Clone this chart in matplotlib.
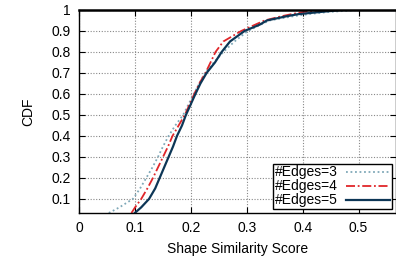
import matplotlib
matplotlib.use("Agg")
import matplotlib.pyplot as plt

plt.rcParams['font.family'] = ['Liberation Sans', 'DejaVu Sans']

# CDF levels and the score read at each level, per series
cdf = [0.033, 0.06, 0.1, 0.15, 0.2, 0.25, 0.3, 0.35, 0.4, 0.45, 0.5, 0.6, 0.65, 0.7,
       0.75, 0.8, 0.85, 0.9, 0.93, 0.95, 0.97, 0.98, 0.99, 1.0, 1.0]
edges3 = [0.053, 0.072, 0.096, 0.109, 0.120, 0.131, 0.141, 0.150, 0.160, 0.172, 0.186, 0.205, 0.215, 0.225,
          0.241, 0.258, 0.278, 0.302, 0.325, 0.341, 0.383, 0.410, 0.445, 0.500, 0.57]
edges4 = [0.0935, 0.100, 0.111, 0.122, 0.132, 0.141, 0.150, 0.159, 0.167, 0.178, 0.189, 0.206, 0.215, 0.226,
          0.235, 0.244, 0.258, 0.290, 0.315, 0.332, 0.362, 0.380, 0.400, 0.440, 0.57]
edges5 = [0.0995, 0.111, 0.125, 0.136, 0.144, 0.152, 0.160, 0.168, 0.175, 0.184, 0.191, 0.208, 0.217, 0.228,
          0.243, 0.255, 0.270, 0.296, 0.323, 0.336, 0.371, 0.392, 0.430, 0.470, 0.57]

xticks = [0, 0.1, 0.2, 0.3, 0.4, 0.5]
yticks = [0.1, 0.2, 0.3, 0.4, 0.5, 0.6, 0.7, 0.8, 0.9, 1]

fig = plt.figure(figsize=(3.96, 2.62), dpi=100)
ax = fig.add_axes([0.2, 0.187, 0.8, 0.775])

ax.plot(edges3, cdf, color='#7fa8b8', linestyle=(0, (1, 1.5)), linewidth=1.3, label='#Edges=3')
ax.plot(edges4, cdf, color='#e0262a', linestyle=(0, (5, 1.5, 1, 1.5)), linewidth=1.3, label='#Edges=4')
ax.plot(edges5, cdf, color='#0d3656', linestyle='-', linewidth=1.6, label='#Edges=5')

ax.set_xlim(0, 0.567)
ax.set_ylim(0.033, 1.0)
ax.set_xticks(xticks)
ax.set_xticklabels(['0', '0.1', '0.2', '0.3', '0.4', '0.5'])
ax.set_yticks(yticks)
ax.set_yticklabels(['0.1', '0.2', '0.3', '0.4', '0.5', '0.6', '0.7', '0.8', '0.9', '1'])
ax.tick_params(direction='in', length=4, labelsize=10, pad=6, top=True, right=True)
ax.grid(True, color='#888888', linestyle=(0, (1, 1.5)), linewidth=0.8)
for s in ax.spines.values():
    s.set_linewidth(1.0)
ax.spines['top'].set_linewidth(1.8)

ax.set_xlabel('Shape Similarity Score', fontsize=10, labelpad=5)
ax.set_ylabel('CDF', fontsize=10, labelpad=12)

leg = ax.legend(loc='lower right', fontsize=10, markerfirst=False, frameon=True, fancybox=False,
                edgecolor='black', framealpha=1, borderpad=0.1, labelspacing=0.0,
                handlelength=3.2, handletextpad=0.6, borderaxespad=0.3)
leg.get_frame().set_linewidth(1.0)

fig.savefig('out.png', dpi=100)
